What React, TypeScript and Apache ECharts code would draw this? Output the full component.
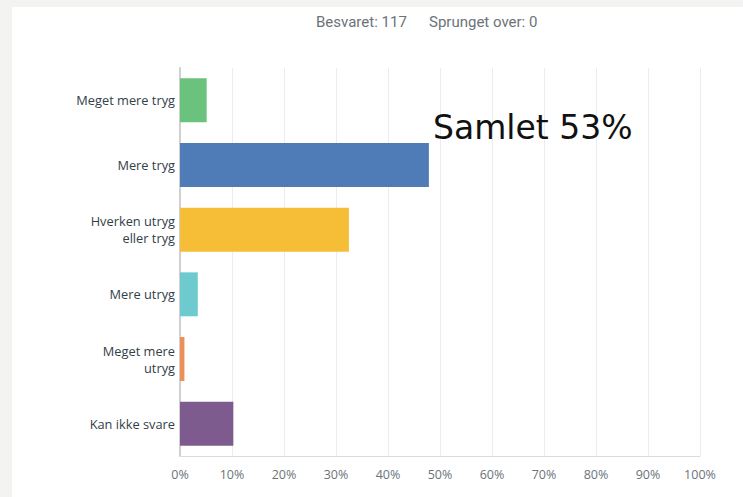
import React, { useEffect, useRef } from "react";
import * as echarts from "echarts";

const categories = [
  "Meget mere tryg",
  "Mere tryg",
  "Hverken utryg\neller tryg",
  "Mere utryg",
  "Meget mere\nutryg",
  "Kan ikke svare",
];
const values = [5.13, 47.86, 32.48, 3.42, 0.85, 10.26];
const barColors = ["#6bc27c", "#4f7bb6", "#f6be37", "#6dcbcf", "#ee8f58", "#7d5b8f"];
const xTicks = { min: 0, max: 100, interval: 10 };
const headerLeft = "Besvaret: 117";
const headerRight = "Sprunget over: 0";
const annotation = "Samlet 53%";

export default function App() {
  const ref = useRef<HTMLDivElement>(null);
  useEffect(() => {
    if (!ref.current) return;
    const chart = echarts.init(ref.current, undefined, { renderer: "svg" });
    chart.setOption({
      animation: false,
      backgroundColor: "#f3f3f1",
      graphic: [
        {
          type: "rect",
          z: -10,
          shape: { x: 12, y: 7, width: 731, height: 490 },
          style: { fill: "#ffffff" },
        },
        {
          type: "text",
          x: 316,
          y: 22,
          style: {
            text: headerLeft,
            fontFamily: "Roboto",
            fontSize: 15,
            fill: "#6b7378",
            verticalAlign: "middle",
          },
        },
        {
          type: "text",
          x: 429,
          y: 22,
          style: {
            text: headerRight,
            fontFamily: "Roboto",
            fontSize: 15,
            fill: "#6b7378",
            verticalAlign: "middle",
          },
        },
        {
          type: "text",
          x: 433,
          y: 127,
          z: 10,
          style: {
            text: annotation,
            fontFamily: "DejaVu Sans",
            fontSize: 33,
            fill: "#111111",
            verticalAlign: "middle",
          },
        },
      ],
      grid: { left: 180, right: 43, top: 68, bottom: 41, containLabel: false },
      xAxis: {
        type: "value",
        min: xTicks.min,
        max: xTicks.max,
        interval: xTicks.interval,
        axisLine: { show: true, lineStyle: { color: "#dcdcdc", width: 1 } },
        axisTick: { show: false },
        splitLine: { show: true, lineStyle: { color: "#ececec", width: 1 } },
        axisLabel: {
          formatter: "{value}%",
          fontFamily: "Open Sans",
          fontSize: 12.5,
          color: "#6b7378",
          margin: 12,
        },
      },
      yAxis: {
        type: "category",
        data: categories,
        inverse: true,
        axisLine: { show: true, lineStyle: { color: "#d0d0d0", width: 2 } },
        axisTick: { show: false },
        splitLine: { show: false },
        axisLabel: {
          fontFamily: "Open Sans",
          fontSize: 12.8,
          lineHeight: 17,
          color: "#333e48",
          margin: 5,
          align: "right",
        },
      },
      series: [
        {
          type: "bar",
          data: values.map((v, i) => ({ value: v, itemStyle: { color: barColors[i] } })),
          barCategoryGap: "32%",
        },
      ],
    });
    return () => chart.dispose();
  }, []);
  return (
    <div
      ref={ref}
      style={{ position: "fixed", left: 0, top: 0, width: 743, height: 497 }}
    />
  );
}
